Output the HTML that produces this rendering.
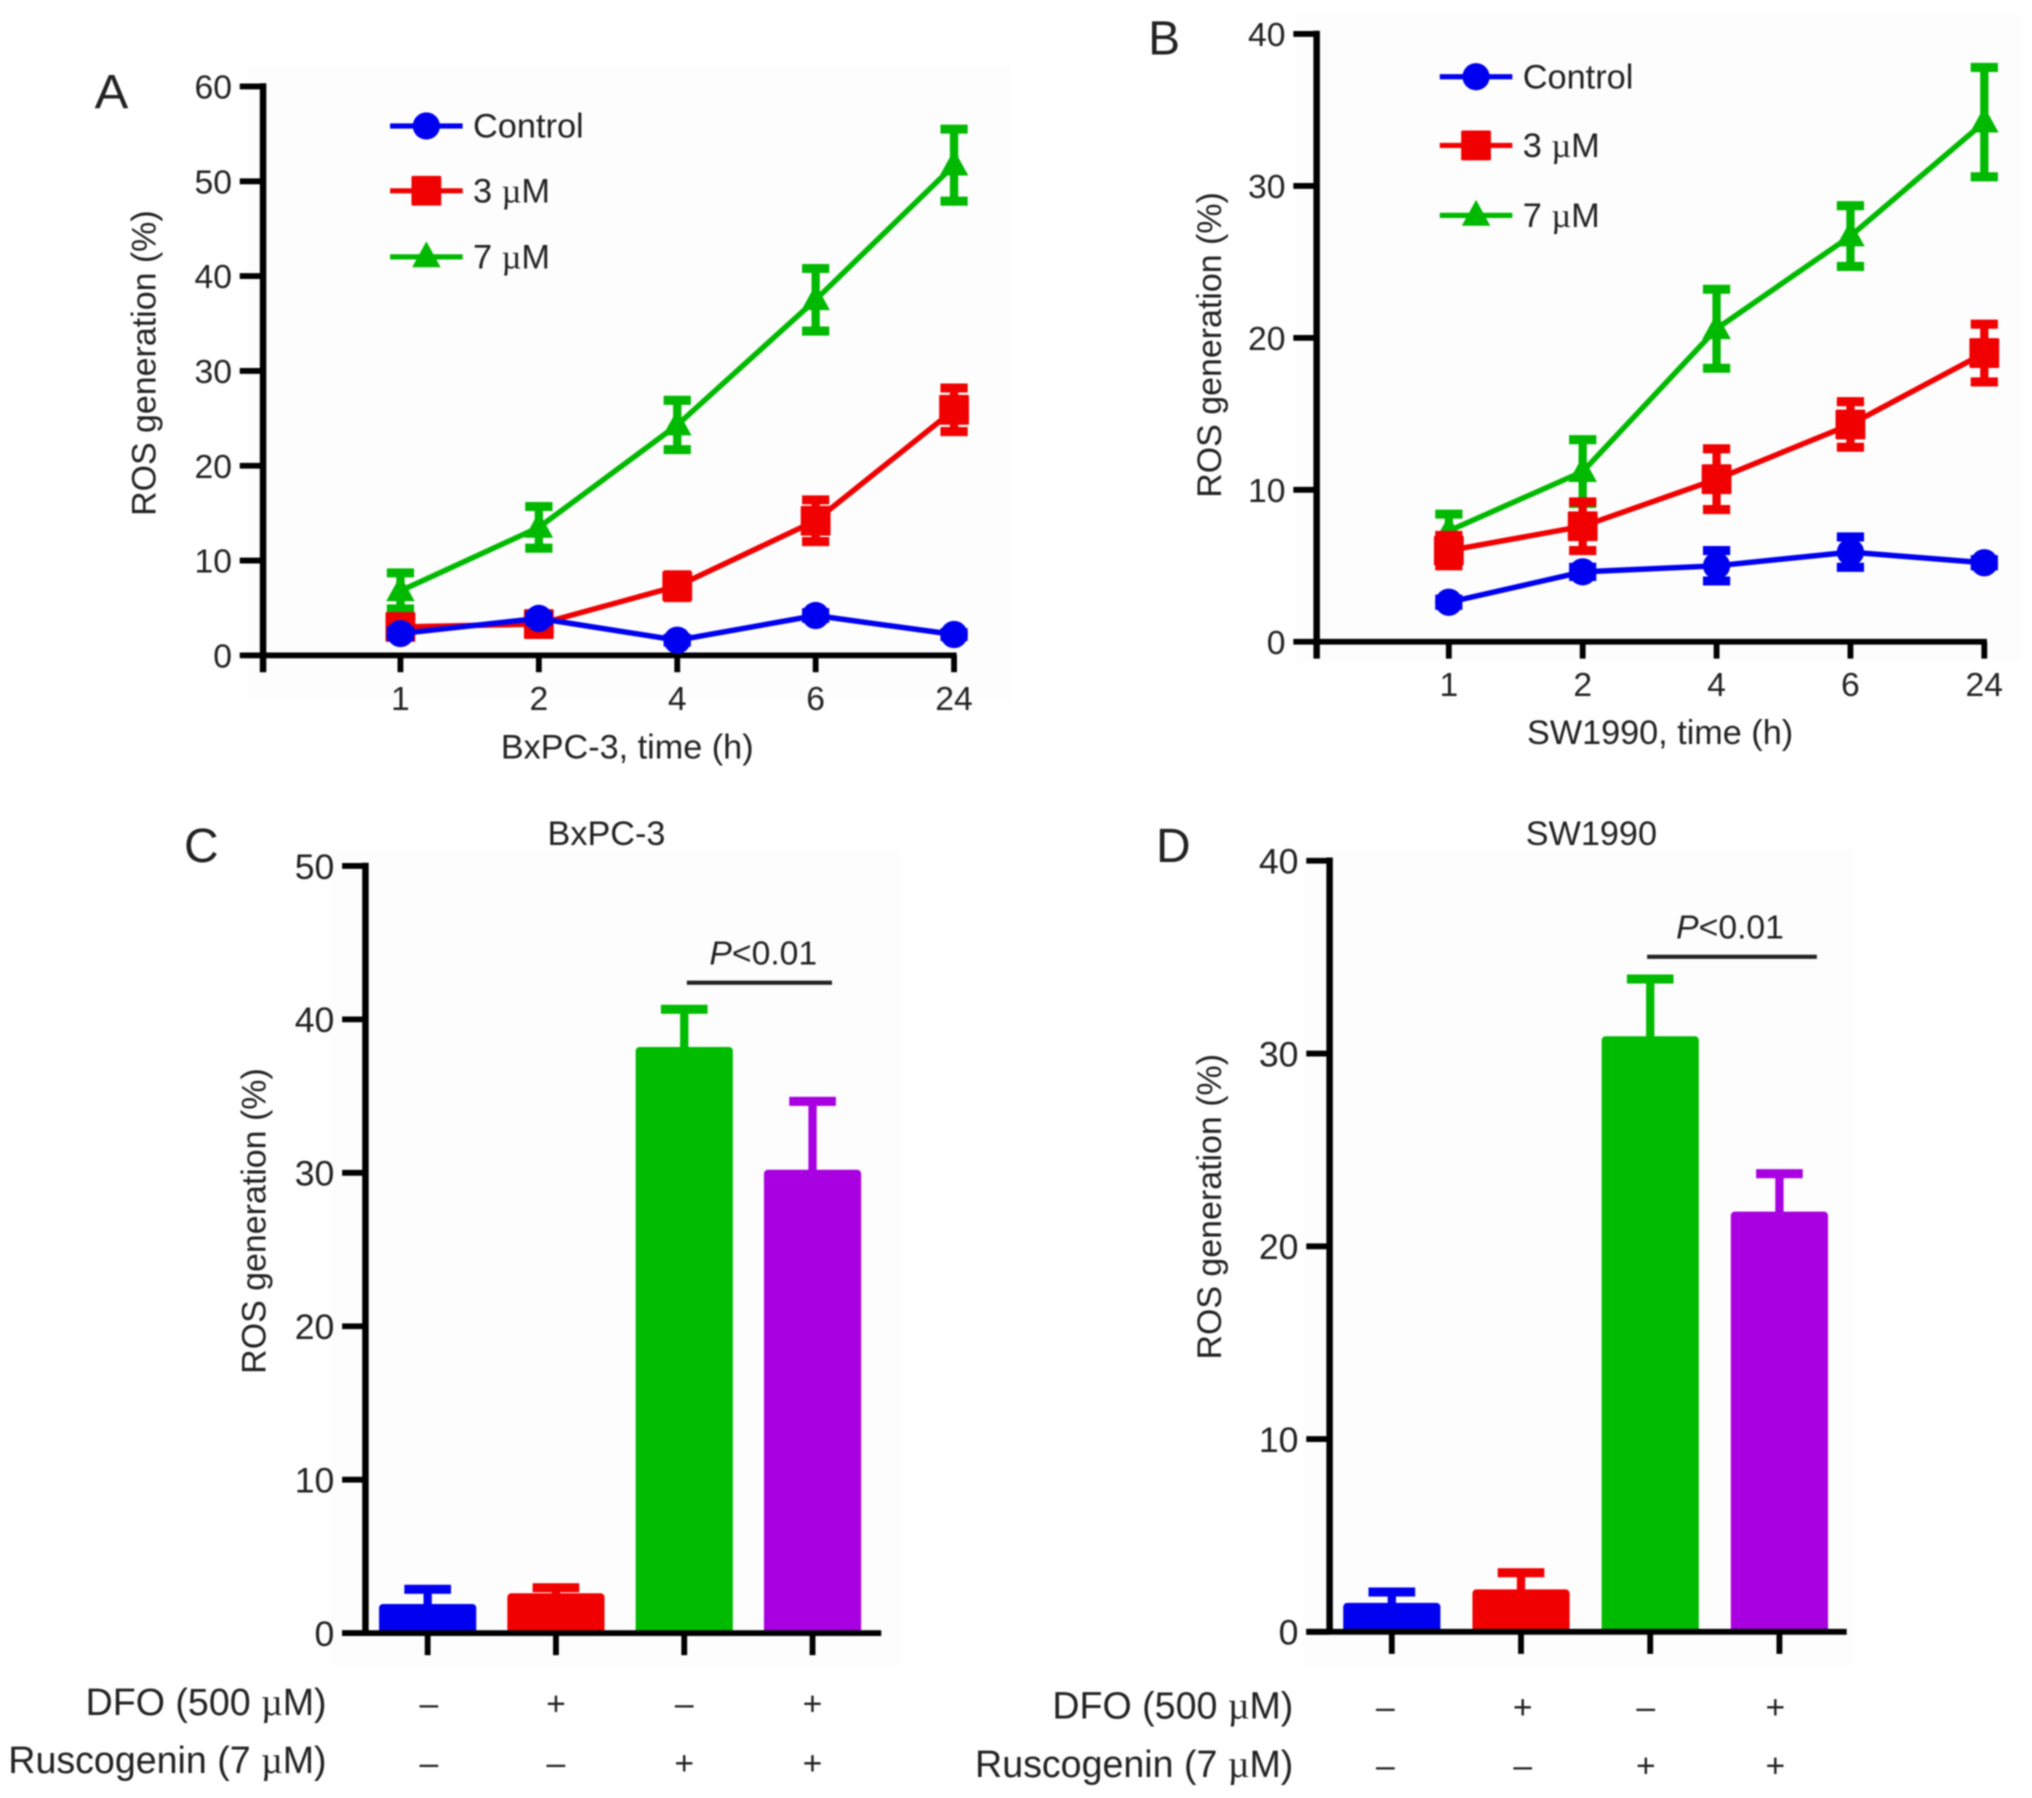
<!DOCTYPE html>
<html lang="en">
<head>
<meta charset="utf-8">
<title>ROS generation charts</title>
<style>
html,body{margin:0;padding:0;background:#fff;width:2032px;height:1798px;overflow:hidden}
svg{display:block;filter:blur(0.7px)}
text{font-family:"Liberation Sans",Arial,sans-serif;fill:#222}
.mu{font-family:"Liberation Serif",serif}
</style>
</head>
<body>
<svg id="figure" xmlns="http://www.w3.org/2000/svg" width="2032" height="1798" viewBox="0 0 1568 1387">
  <rect x="0" y="0" width="1568" height="1387" fill="#ffffff"/>
  <rect x="190" y="50" width="590" height="490" fill="#fdfdfd"/>
  <rect x="1000" y="10" width="560" height="500" fill="#fdfdfd"/>
  <rect x="255" y="655" width="440" height="630" fill="#fdfdfd"/>
  <rect x="1005" y="655" width="425" height="630" fill="#fdfdfd"/>

  <text x="73" y="83" font-size="37" textLength="26" lengthAdjust="spacingAndGlyphs">A</text>
  <text x="886" y="42" font-size="37">B</text>
  <text x="142" y="665" font-size="37">C</text>
  <text x="892" y="665" font-size="37">D</text>

  <text font-size="26.2" text-anchor="middle" transform="translate(120 280) rotate(-90)">ROS generation (%)</text>
  <text font-size="26.2" text-anchor="middle" transform="translate(942 266) rotate(-90)">ROS generation (%)</text>
  <text font-size="26.2" text-anchor="middle" transform="translate(205 942) rotate(-90)">ROS generation (%)</text>
  <text font-size="26.2" text-anchor="middle" transform="translate(942 931) rotate(-90)">ROS generation (%)</text>

  <text x="484" y="585" font-size="26.4" text-anchor="middle">BxPC-3, time (h)</text>
  <text x="1281" y="574" font-size="26.4" text-anchor="middle">SW1990, time (h)</text>
  <text x="468" y="652" font-size="26.4" text-anchor="middle">BxPC-3</text>
  <text x="1228" y="652" font-size="26.4" text-anchor="middle">SW1990</text>

  <text x="589" y="744" font-size="26" text-anchor="middle"><tspan font-style="italic">P</tspan>&lt;0.01</text>
  <rect x="530" y="756.5" width="112" height="3.2" fill="#222"/>
  <text x="1335" y="724" font-size="26" text-anchor="middle"><tspan font-style="italic">P</tspan>&lt;0.01</text>
  <rect x="1271" y="736.5" width="131" height="3.2" fill="#222"/>

  <text x="252" y="1323" font-size="29" text-anchor="end">DFO (500 <tspan class="mu">µ</tspan>M)</text>
  <text x="252" y="1368" font-size="29" text-anchor="end">Ruscogenin (7 <tspan class="mu">µ</tspan>M)</text>
  <text x="998" y="1326" font-size="29" text-anchor="end">DFO (500 <tspan class="mu">µ</tspan>M)</text>
  <text x="998" y="1371" font-size="29" text-anchor="end">Ruscogenin (7 <tspan class="mu">µ</tspan>M)</text>

  <g id="charts"></g>
</svg>
<script>
// ---- Shared categories ----
const timeCategories = ["1", "2", "4", "6", "24"];
const seriesNames = ["Control", "3 µM", "7 µM"];
const treatmentGroups = ["Control", "DFO", "Ruscogenin", "DFO + Ruscogenin"];
const dfoSigns = ["–", "+", "–", "+"];
const ruscogeninSigns = ["–", "–", "+", "+"];

// ---- Panel A (BxPC-3 time course) ----
const aTicks = [0, 10, 20, 30, 40, 50, 60];
const aControl = [2.3, 3.9, 1.6, 4.2, 2.2];
const aControlErr = [0.3, 0.3, 0.2, 0.3, 0.2];
const a3uM = [3.0, 3.3, 7.3, 14.2, 25.9];
const a3uMErr = [1.0, 0.7, 1.2, 2.2, 2.3];
const a7uM = [6.8, 13.5, 24.3, 37.5, 51.7];
const a7uMErr = [1.9, 2.2, 2.6, 3.3, 3.8];

// ---- Panel B (SW1990 time course) ----
const bTicks = [0, 10, 20, 30, 40];
const bControl = [2.6, 4.6, 5.0, 5.9, 5.2];
const bControlErr = [0.2, 0.3, 1.0, 1.0, 0.2];
const b3uM = [6.0, 7.6, 10.7, 14.3, 19.0];
const b3uMErr = [1.0, 1.6, 2.0, 1.5, 1.9];
const b7uM = [7.3, 11.2, 20.6, 26.7, 34.2];
const b7uMErr = [1.1, 2.1, 2.6, 2.0, 3.6];

// ---- Panel C (BxPC-3 bars) ----
const cTicks = [0, 10, 20, 30, 40, 50];
const cValues = [1.9, 2.6, 38.2, 30.2];
const cErrTops = [2.9, 3.0, 40.7, 34.7];

// ---- Panel D (SW1990 bars) ----
const dTicks = [0, 10, 20, 30, 40];
const dValues = [1.5, 2.2, 30.9, 21.8];
const dErrTops = [2.1, 3.1, 33.9, 23.8];

const seriesColors = ["#0000f0", "#f00000", "#00b900"];
const barColors = ["#0000f0", "#f00000", "#00bb00", "#a800e0"];
const NS = "http://www.w3.org/2000/svg";
const root = document.getElementById("charts");

function mk(tag, attrs, parent) {
  const el = document.createElementNS(NS, tag);
  for (const k in attrs) el.setAttribute(k, attrs[k]);
  parent.appendChild(el);
  return el;
}

function linearScale(d0, d1, r0, r1) {
  return function (v) { return r0 + (v - d0) * (r1 - r0) / (d1 - d0); };
}

function bandScale(first, step) {
  return function (i) { return first + i * step; };
}

function drawYAxis(g, prefix, ticks, y, axisX, bottom, labelX, fontSize) {
  const top = y(ticks[ticks.length - 1]);
  const axis = mk("line", {x1: axisX, x2: axisX, y1: top - 2.5, y2: bottom, stroke: "#000", "stroke-width": 5}, g);
  
  
  ticks.forEach(function (t) {
    const tick = mk("line", {x1: axisX - 18, x2: axisX, y1: y(t), y2: y(t), stroke: "#000", "stroke-width": 4.5}, g);
    
    
    const label = mk("text", {x: labelX, y: y(t) + fontSize * 0.36, "font-size": fontSize, "text-anchor": "end"}, g);
    label.textContent = String(t);
    
    
  });
}

function drawMarker(g, kind, cx, cy, color) {
  let m;
  if (kind === 0) {
    m = mk("circle", {cx: cx, cy: cy, r: 10.5, fill: color}, g);
  } else if (kind === 1) {
    m = mk("rect", {x: cx - 11.5, y: cy - 11.5, width: 23, height: 23, rx: 1, fill: color}, g);
  } else {
    m = mk("polygon", {points: (cx) + "," + (cy - 12) + " " + (cx + 11) + "," + (cy + 8) + " " + (cx - 11) + "," + (cy + 8), fill: color}, g);
  }
  return m;
}

function drawLineChart(cfg) {
  const g = mk("g", {}, root);
  
  
  const y = linearScale(0, cfg.ticks[cfg.ticks.length - 1], cfg.y0, cfg.yTop);
  const x = bandScale(cfg.firstX, cfg.stepX);
  drawYAxis(g, cfg.prefix, cfg.ticks, y, cfg.axisX, cfg.y0 + 13, cfg.axisX - 24, 26);
  const base = mk("line", {x1: cfg.axisX, x2: x(timeCategories.length - 1) + 2, y1: cfg.y0, y2: cfg.y0, stroke: "#000", "stroke-width": 4.5}, g);
  
  
  timeCategories.forEach(function (c, i) {
    const tick = mk("line", {x1: x(i), x2: x(i), y1: cfg.y0, y2: cfg.y0 + 13, stroke: "#000", "stroke-width": 4.5}, g);
    
    
    const label = mk("text", {x: x(i), y: cfg.y0 + 42, "font-size": 26, "text-anchor": "middle"}, g);
    label.textContent = c;
    
    
  });
  [2, 1, 0].forEach(function (s) {
    const vals = cfg.series[s];
    const errs = cfg.errors[s];
    const color = seriesColors[s];
    const sg = mk("g", {}, g);
    
    
    const pts = vals.map(function (v, i) { return x(i) + "," + y(v); }).join(" ");
    const line = mk("polyline", {points: pts, fill: "none", stroke: color, "stroke-width": 4.2}, sg);
    
    
    vals.forEach(function (v, i) {
      const hi = y(v + errs[i]);
      const lo = y(v - errs[i]);
      const stem = mk("line", {x1: x(i), x2: x(i), y1: hi, y2: lo, stroke: color, "stroke-width": 6.4}, sg);
      
      
      const capTop = mk("line", {x1: x(i) - 10.5, x2: x(i) + 10.5, y1: hi, y2: hi, stroke: color, "stroke-width": 7}, sg);
      
      
      const capBot = mk("line", {x1: x(i) - 10.5, x2: x(i) + 10.5, y1: lo, y2: lo, stroke: color, "stroke-width": 7}, sg);
      
      
      const marker = drawMarker(sg, s, x(i), y(v), color);
      
      
    });
  });
  seriesNames.forEach(function (name, s) {
    const ly = cfg.legendY[s];
    const lg = mk("g", {}, g);
    
    
    mk("line", {x1: cfg.legendX, x2: cfg.legendX + 56, y1: ly, y2: ly, stroke: seriesColors[s], "stroke-width": 4}, lg);
    drawMarker(lg, s, cfg.legendX + 28, ly, seriesColors[s]);
    const t = mk("text", {x: cfg.legendX + 64, y: ly + 9, "font-size": 26.5}, lg);
    const parts = name.split("µ");
    t.appendChild(document.createTextNode(parts[0]));
    if (parts.length > 1) {
      const mu = mk("tspan", {class: "mu"}, t);
      mu.textContent = "µ";
      t.appendChild(document.createTextNode(parts[1]));
    }
  });
}

function drawBarChart(cfg) {
  const g = mk("g", {}, root);
  
  
  const y = linearScale(0, cfg.ticks[cfg.ticks.length - 1], cfg.y0, cfg.yTop);
  const x = bandScale(cfg.firstX, cfg.stepX);
  treatmentGroups.forEach(function (grp, i) {
    const top = y(cfg.values[i]);
    const errTop = y(cfg.errTops[i]);
    const color = barColors[i];
    const stem = mk("rect", {x: x(i) - 3.2, y: errTop, width: 6.4, height: top - errTop + 2, fill: color}, g);
    
    
    const cap = mk("rect", {x: x(i) - 18, y: errTop - 3, width: 36, height: 7, fill: color}, g);
    
    
    const bar = mk("rect", {x: x(i) - 37.5, y: top, width: 75, height: cfg.y0 - top, rx: 3, fill: color}, g);
    
    
    const tick = mk("line", {x1: x(i), x2: x(i), y1: cfg.y0, y2: cfg.y0 + 17, stroke: "#000", "stroke-width": 4.5}, g);
    
    
    const s1 = mk("text", {x: cfg.signX[i], y: cfg.signY[0], "font-size": 26, "text-anchor": "middle"}, g);
    s1.textContent = dfoSigns[i];
    
    
    const s2 = mk("text", {x: cfg.signX[i], y: cfg.signY[1], "font-size": 26, "text-anchor": "middle"}, g);
    s2.textContent = ruscogeninSigns[i];
    
    
  });
  drawYAxis(g, cfg.prefix, cfg.ticks, y, cfg.axisX, cfg.y0 + 2, cfg.axisX - 24, 27.5);
  const base = mk("line", {x1: cfg.axisX - 18, x2: cfg.baseEnd, y1: cfg.y0, y2: cfg.y0, stroke: "#000", "stroke-width": 4.5}, g);
  
  
}

drawLineChart({
  prefix: "panel-a", ticks: aTicks, y0: 505.5, yTop: 66.5, axisX: 203, firstX: 309, stepX: 106.8,
  series: [aControl, a3uM, a7uM], errors: [aControlErr, a3uMErr, a7uMErr],
  legendX: 301, legendY: [97, 147, 198]
});
drawLineChart({
  prefix: "panel-b", ticks: bTicks, y0: 495, yTop: 26, axisX: 1016, firstX: 1118, stepX: 103.3,
  series: [bControl, b3uM, b7uM], errors: [bControlErr, b3uMErr, b7uMErr],
  legendX: 1111, legendY: [59, 112, 166]
});
drawBarChart({
  prefix: "panel-c", ticks: cTicks, y0: 1260, yTop: 668, axisX: 282, firstX: 330, stepX: 99, baseEnd: 680,
  values: cValues, errTops: cErrTops, signX: [331, 429, 528, 627], signY: [1323, 1369]
});
drawBarChart({
  prefix: "panel-d", ticks: dTicks, y0: 1259, yTop: 664, axisX: 1026, firstX: 1074, stepX: 99.7, baseEnd: 1425,
  values: dValues, errTops: dErrTops, signX: [1069, 1175, 1270, 1370], signY: [1326, 1371]
});
</script>
</body>
</html>
